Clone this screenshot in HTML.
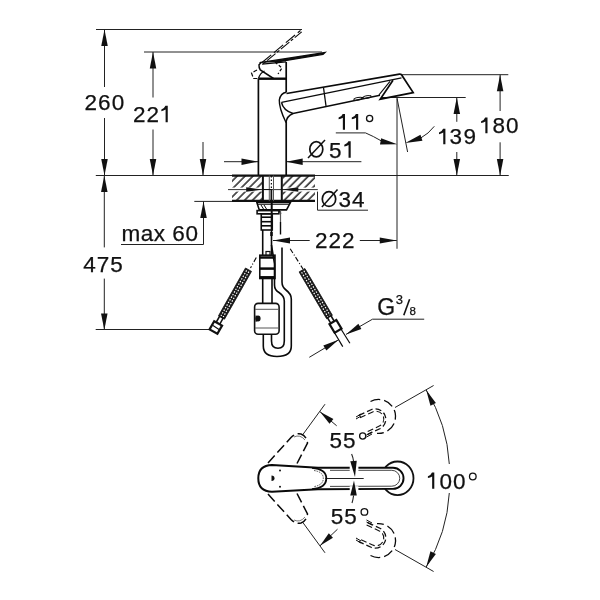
<!DOCTYPE html>
<html><head><meta charset="utf-8"><style>
html,body{margin:0;padding:0;background:#fff;}
svg{display:block;will-change:transform;}
text{font-family:"Liberation Sans",sans-serif;fill:#111;stroke:#111;stroke-width:0.25px;}
</style></head><body>
<svg width="600" height="600" viewBox="0 0 600 600">
<rect width="600" height="600" fill="#fff"/>
<line x1="96" y1="29.5" x2="302" y2="29.5" stroke="#222" stroke-width="1.0" />
<line x1="144" y1="52" x2="322" y2="52" stroke="#222" stroke-width="1.0" />
<line x1="104.5" y1="29.5" x2="104.5" y2="87" stroke="#222" stroke-width="1.0" />
<polygon points="104.50,29.50 107.75,46.00 101.25,46.00" fill="#111"/>
<line x1="104.5" y1="118" x2="104.5" y2="175.5" stroke="#222" stroke-width="1.0" />
<polygon points="104.50,175.50 101.25,159.00 107.75,159.00" fill="#111"/>
<line x1="153" y1="52" x2="153" y2="97.5" stroke="#222" stroke-width="1.0" />
<polygon points="153.00,52.00 156.25,68.50 149.75,68.50" fill="#111"/>
<line x1="153" y1="129.5" x2="153" y2="175.5" stroke="#222" stroke-width="1.0" />
<polygon points="153.00,175.50 149.75,159.00 156.25,159.00" fill="#111"/>
<line x1="203" y1="142" x2="203" y2="175.5" stroke="#222" stroke-width="1.0" />
<polygon points="203.00,175.50 199.75,159.00 206.25,159.00" fill="#111"/>
<line x1="95.8" y1="175.5" x2="508.75" y2="175.5" stroke="#222" stroke-width="1.0" />
<line x1="104.3" y1="175.5" x2="104.3" y2="247.4" stroke="#222" stroke-width="1.0" />
<polygon points="104.30,175.50 107.55,192.00 101.05,192.00" fill="#111"/>
<line x1="104.3" y1="278.6" x2="104.3" y2="330" stroke="#222" stroke-width="1.0" />
<polygon points="104.30,330.00 101.05,313.50 107.55,313.50" fill="#111"/>
<line x1="95.7" y1="329.5" x2="214" y2="329.5" stroke="#222" stroke-width="1.0" />
<line x1="194.3" y1="201.4" x2="232" y2="201.4" stroke="#222" stroke-width="1.0" />
<line x1="203.5" y1="201.4" x2="203.5" y2="244.5" stroke="#222" stroke-width="1.0" />
<polygon points="203.50,201.40 206.75,217.90 200.25,217.90" fill="#111"/>
<line x1="121" y1="244.5" x2="203.5" y2="244.5" stroke="#222" stroke-width="1.0" />
<line x1="224" y1="161.7" x2="258" y2="161.7" stroke="#222" stroke-width="1.0" />
<polygon points="258.00,161.70 241.50,164.95 241.50,158.45" fill="#111"/>
<line x1="286.2" y1="161.7" x2="361.4" y2="161.7" stroke="#222" stroke-width="1.0" />
<polygon points="286.20,161.70 302.70,158.45 302.70,164.95" fill="#111"/>
<path d="M335.8 132.9 L365.5 132.9 Q373 136 382 141.3" stroke="#222" stroke-width="1.0" fill="none" />
<polygon points="397.30,144.30 379.99,144.53 381.13,138.13" fill="#111"/>
<line x1="397" y1="98.5" x2="397" y2="248.75" stroke="#222" stroke-width="1.0" />
<line x1="397" y1="98" x2="407.6" y2="152" stroke="#222" stroke-width="1.0" />
<path d="M434.3 126.3 Q429 133.5 420 138.5" stroke="#222" stroke-width="1.0" fill="none" />
<polygon points="405.30,143.00 420.46,134.65 422.47,140.84" fill="#111"/>
<line x1="273" y1="240.5" x2="309.7" y2="240.5" stroke="#222" stroke-width="1.0" />
<polygon points="273.00,240.50 290.00,237.50 290.00,243.50" fill="#111"/>
<line x1="359.8" y1="240.5" x2="396.75" y2="240.5" stroke="#222" stroke-width="1.0" />
<polygon points="396.75,240.50 379.75,243.50 379.75,237.50" fill="#111"/>
<line x1="382" y1="97.5" x2="465.7" y2="97.5" stroke="#222" stroke-width="1.0" />
<line x1="456.8" y1="97.5" x2="456.8" y2="121.8" stroke="#222" stroke-width="1.0" />
<polygon points="456.80,97.50 460.05,114.00 453.55,114.00" fill="#111"/>
<line x1="456.8" y1="152" x2="456.8" y2="175.5" stroke="#222" stroke-width="1.0" />
<polygon points="456.80,175.50 453.55,159.00 460.05,159.00" fill="#111"/>
<line x1="401" y1="74.7" x2="508.3" y2="74.7" stroke="#222" stroke-width="1.0" />
<line x1="500.1" y1="74.7" x2="500.1" y2="111" stroke="#222" stroke-width="1.0" />
<polygon points="500.10,74.70 503.35,91.20 496.85,91.20" fill="#111"/>
<line x1="500.1" y1="142.3" x2="500.1" y2="175.5" stroke="#222" stroke-width="1.0" />
<polygon points="500.10,175.50 496.85,159.00 503.35,159.00" fill="#111"/>
<line x1="317.5" y1="189.6" x2="317.5" y2="210.2" stroke="#222" stroke-width="1.0" />
<line x1="317.5" y1="210.2" x2="368" y2="210.2" stroke="#222" stroke-width="1.0" />
<line x1="372.5" y1="319.2" x2="424.2" y2="319.2" stroke="#222" stroke-width="1.0" />
<line x1="372.5" y1="319.2" x2="346" y2="334.4" stroke="#222" stroke-width="1.0" />
<polygon points="346.00,334.40 358.39,323.84 361.37,329.05" fill="#111"/>
<line x1="309.3" y1="357.3" x2="338.6" y2="339.8" stroke="#222" stroke-width="1.0" />
<polygon points="338.60,339.80 326.38,350.55 323.31,345.39" fill="#111"/>
<defs><pattern id="hat" width="5.6" height="5.6" patternUnits="userSpaceOnUse" patternTransform="rotate(45)"><line x1="1" y1="-1" x2="1" y2="7" stroke="#1a1a1a" stroke-width="1.45"/></pattern></defs>
<rect x="232" y="175.5" width="31" height="25.9" fill="url(#hat)"/>
<rect x="282.5" y="175.5" width="32.5" height="25.9" fill="url(#hat)"/>
<rect x="228" y="187.6" width="90" height="4" fill="#fff"/>
<line x1="228" y1="189.6" x2="317.8" y2="189.6" stroke="#333" stroke-width="1.0" />
<polygon points="262.70,189.60 246.20,191.85 246.20,187.35" fill="#111"/>
<polygon points="281.80,189.60 298.30,187.35 298.30,191.85" fill="#111"/>
<line x1="232" y1="175.7" x2="315" y2="175.7" stroke="#111" stroke-width="2.2" />
<line x1="232" y1="200.9" x2="315" y2="200.9" stroke="#111" stroke-width="2.2" />
<line x1="262.9" y1="175.5" x2="262.9" y2="201.2" stroke="#111" stroke-width="2.0" />
<line x1="281.8" y1="175.5" x2="281.8" y2="201.2" stroke="#111" stroke-width="2.0" />
<line x1="269.3" y1="175.5" x2="269.3" y2="201.2" stroke="#555" stroke-width="1.0" />
<line x1="273.5" y1="175.5" x2="273.5" y2="201.2" stroke="#555" stroke-width="1.0" />
<line x1="271.4" y1="176" x2="271.4" y2="188.5" stroke="#111" stroke-width="1.2" stroke-dasharray="1.5 2"/>
<line x1="271.4" y1="189" x2="271.4" y2="201" stroke="#111" stroke-width="1.8" />
<line x1="262.9" y1="189.5" x2="271.4" y2="189.5" stroke="#111" stroke-width="1.0" />
<line x1="258.4" y1="78.7" x2="258.4" y2="175" stroke="#0a0a0a" stroke-width="1.7" />
<line x1="258.4" y1="78.7" x2="286.2" y2="78.7" stroke="#0a0a0a" stroke-width="2.4" />
<line x1="286.2" y1="62" x2="286.2" y2="92" stroke="#0a0a0a" stroke-width="1.7" />
<line x1="286.2" y1="122" x2="286.2" y2="175" stroke="#0a0a0a" stroke-width="1.7" />
<path d="M259.5 62.7 L325 52.5 L323 54.3 L276 62.2" stroke="#0a0a0a" stroke-width="1.3" fill="#111" />
<path d="M262 64.2 L286.2 61.8" stroke="#0a0a0a" stroke-width="1.2" fill="none" />
<path d="M261.5 62.3 L259 64.8 Q258.8 68 260.3 70 L273.5 78.5" stroke="#0a0a0a" stroke-width="1.5" fill="none" />
<path d="M258.5 78.5 Q260 73 264.5 71" stroke="#0a0a0a" stroke-width="1.2" fill="none" />
<path d="M275 62 L282 68 L278 74" stroke="#0a0a0a" stroke-width="1.2" fill="none" stroke-dasharray="3 2"/>
<path d="M257 70 L251.5 73 L253.5 78.5 L258 78.5" stroke="#0a0a0a" stroke-width="1.2" fill="none" stroke-dasharray="4 2"/>
<path d="M262 62.5 L300.5 30.5" stroke="#0a0a0a" stroke-width="1.1" fill="none" stroke-dasharray="12 3.5"/>
<path d="M263.2 63.8 L301.7 31.8" stroke="#0a0a0a" stroke-width="1.1" fill="none" stroke-dasharray="3 2 11 2"/>
<path d="M286.5 93.5 L399.5 74.2 Q401.5 74 402.2 75.8 L413.2 92.6 L380.2 99.2 L393 80.2" stroke="#0a0a0a" stroke-width="1.7" fill="none" />
<path d="M281.5 102.3 L401.5 77.8" stroke="#0a0a0a" stroke-width="1.3" fill="none" />
<path d="M379 94.8 L390 81.3" stroke="#0a0a0a" stroke-width="1.1" fill="none" />
<path d="M281.5 102.3 Q283 110 293 113.5 L380 95.3" stroke="#0a0a0a" stroke-width="1.5" fill="none" />
<path d="M286.5 92.2 Q280.5 93 279.3 100 Q279 108 285.8 122" stroke="#0a0a0a" stroke-width="1.4" fill="none" />
<path d="M293 113.5 Q286.5 116 286 123" stroke="#0a0a0a" stroke-width="1.4" fill="none" />
<line x1="323.5" y1="87.5" x2="326" y2="106" stroke="#0a0a0a" stroke-width="1.3" />
<ellipse cx="358" cy="98.8" rx="4.2" ry="1.3" transform="rotate(-11.5 358 98.8)" fill="none" stroke="#111" stroke-width="1"/>
<ellipse cx="367" cy="97" rx="4.2" ry="1.3" transform="rotate(-11.5 367 97)" fill="none" stroke="#111" stroke-width="1"/>
<line x1="362.5" y1="97" x2="362.5" y2="98.5" stroke="#0a0a0a" stroke-width="2" />
<path d="M256.8 202.4 L290.5 202.4 L286.5 209.9 L259.3 209.9 Z" stroke="#0a0a0a" stroke-width="1.6" fill="none" />
<line x1="257.5" y1="204.3" x2="289.5" y2="204.3" stroke="#111" stroke-width="1.0" />
<line x1="261" y1="205" x2="263.5" y2="209" stroke="#0a0a0a" stroke-width="1" />
<line x1="264" y1="205" x2="266.5" y2="209" stroke="#0a0a0a" stroke-width="1" />
<line x1="271.7" y1="201" x2="271.7" y2="230" stroke="#0a0a0a" stroke-width="2.0" />
<rect x="257.1" y="210.6" width="21.8" height="3.2" fill="none" stroke="#111" stroke-width="1.6"/>
<line x1="278.9" y1="210.6" x2="281" y2="213.6" stroke="#0a0a0a" stroke-width="1.2" />
<rect x="261.25" y="213.8" width="11" height="16.2" fill="none" stroke="#111" stroke-width="1.6"/>
<line x1="261.25" y1="217.2" x2="272.25" y2="217.2" stroke="#0a0a0a" stroke-width="1.6" />
<line x1="261.25" y1="221.7" x2="272.25" y2="221.7" stroke="#0a0a0a" stroke-width="1.6" />
<line x1="261.25" y1="225.8" x2="272.25" y2="225.8" stroke="#0a0a0a" stroke-width="1.6" />
<line x1="262.7" y1="230" x2="262.7" y2="255.2" stroke="#0a0a0a" stroke-width="1.6" />
<line x1="271.5" y1="230" x2="271.5" y2="255.2" stroke="#0a0a0a" stroke-width="1.6" />
<line x1="271.5" y1="232" x2="271.5" y2="236" stroke="#0a0a0a" stroke-width="2.5" />
<line x1="280.5" y1="211" x2="280.5" y2="222" stroke="#555" stroke-width="1.2" />
<line x1="280.5" y1="222" x2="280.5" y2="234.5" stroke="#0a0a0a" stroke-width="1.4" />
<rect x="259.8" y="255.2" width="15.2" height="23.3" fill="none" stroke="#111" stroke-width="1.6"/>
<line x1="259.8" y1="257.5" x2="275" y2="257.5" stroke="#0a0a0a" stroke-width="2.5" />
<line x1="259.8" y1="268.6" x2="275" y2="268.6" stroke="#0a0a0a" stroke-width="2.5" />
<line x1="259.8" y1="277.3" x2="275" y2="277.3" stroke="#0a0a0a" stroke-width="2.5" />
<rect x="266" y="251.5" width="4" height="4" fill="none" stroke="#111" stroke-width="1.2"/>
<line x1="262.7" y1="278.5" x2="262.7" y2="303.4" stroke="#0a0a0a" stroke-width="1.6" />
<line x1="272" y1="278.5" x2="272" y2="303.4" stroke="#0a0a0a" stroke-width="1.6" />
<rect x="254.6" y="303.4" width="24.5" height="30.9" rx="3.5" fill="none" stroke="#111" stroke-width="1.6"/>
<line x1="255" y1="309.3" x2="279" y2="309.3" stroke="#555" stroke-width="1" />
<line x1="255" y1="328" x2="279" y2="328" stroke="#555" stroke-width="1" />
<path d="M255.5 315.5 A3 3 0 0 1 255.5 321.7 Z" fill="#111"/>
<ellipse cx="258" cy="318.6" rx="2.6" ry="3" fill="#111"/>
<path d="M263.3 334.3 L263.3 346 Q263.3 356.5 277 356.5 Q291.3 356.5 291.3 346 L291.3 299 Q291.3 294 286 290 Q282 287 282 282 L282 247.5" stroke="#0a0a0a" stroke-width="1.6" fill="none" />
<path d="M271.5 334.3 L271.5 341 Q271.5 348.3 278 348.3 Q284.3 348.3 284.3 341 L284.3 301 Q284.3 296 279 292.5 Q274.5 290 274.5 285 L274.5 264 L271.5 245" stroke="#0a0a0a" stroke-width="1.6" fill="none" />
<line x1="256.3" y1="257.5" x2="250.5" y2="268" stroke="#0a0a0a" stroke-width="1.1" stroke-dasharray="5 2 1 2"/>
<line x1="290.2" y1="248.7" x2="303" y2="269" stroke="#0a0a0a" stroke-width="1.1" stroke-dasharray="5 2 1 2"/>
<polygon points="245.5,268.0 218.5,315.8 224.5,319.2 251.5,271.4" fill="#1a1a1a" stroke="#111" stroke-width="0.8"/>
<line x1="248.9" y1="271.6" x2="222.6" y2="318.1" stroke="#fff" stroke-width="1.2" stroke-dasharray="1.5 1.5"/>
<line x1="246.6" y1="270.4" x2="220.4" y2="316.9" stroke="#fff" stroke-width="1.2" stroke-dasharray="1.5 1.5"/>
<polygon points="299.1,271.9 326.6,318.7 332.4,315.3 304.9,268.5" fill="#1a1a1a" stroke="#111" stroke-width="0.8"/>
<line x1="303.9" y1="270.8" x2="330.6" y2="316.3" stroke="#fff" stroke-width="1.2" stroke-dasharray="1.5 1.5"/>
<line x1="301.6" y1="272.2" x2="328.4" y2="317.7" stroke="#fff" stroke-width="1.2" stroke-dasharray="1.5 1.5"/>
<rect x="-3.5" y="-2.0" width="7" height="4" fill="#fff" stroke="#111" stroke-width="1.6" transform="translate(219.7 320.2) rotate(-60.5)"/>
<rect x="-4.75" y="-4.5" width="9.5" height="9" fill="#fff" stroke="#111" stroke-width="2.2" transform="translate(215.8 327.5) rotate(-60.5)"/>
<line x1="213" y1="325.5" x2="219" y2="329.5" stroke="#0a0a0a" stroke-width="1.2" />
<rect x="-3.5" y="-2.0" width="7" height="4" fill="#fff" stroke="#111" stroke-width="1.6" transform="translate(331 319.7) rotate(58.8)"/>
<rect x="-5.0" y="-4.0" width="10" height="8" fill="#fff" stroke="#111" stroke-width="2.2" transform="translate(335.5 326.3) rotate(58.8)"/>
<line x1="334.1" y1="332" x2="342.75" y2="346.6" stroke="#0a0a0a" stroke-width="1.2" />
<line x1="340.5" y1="328.25" x2="349.9" y2="343.25" stroke="#0a0a0a" stroke-width="1.2" />
<line x1="302.5" y1="435" x2="325" y2="404.2" stroke="#222" stroke-width="1.0" />
<line x1="320" y1="411.7" x2="336.7" y2="425.8" stroke="#222" stroke-width="1.0" />
<polygon points="320.00,411.70 333.40,419.08 329.53,423.67" fill="#111"/>
<line x1="302.5" y1="522" x2="325" y2="552.8" stroke="#222" stroke-width="1.0" />
<line x1="320" y1="545.8" x2="337.5" y2="529.2" stroke="#222" stroke-width="1.0" />
<polygon points="320.00,545.80 328.82,533.30 332.95,537.65" fill="#111"/>
<line x1="395" y1="407.5" x2="433.6" y2="385.5" stroke="#222" stroke-width="1.0" />
<line x1="395" y1="549.5" x2="433.6" y2="571.5" stroke="#222" stroke-width="1.0" />
<path d="M426.2 390 A159 159 0 0 1 449.3 464" stroke="#222" stroke-width="1.0" fill="none" />
<path d="M449.3 493 A159 159 0 0 1 426.2 567" stroke="#222" stroke-width="1.0" fill="none" />
<polygon points="426.20,390.00 435.86,403.10 430.46,405.71" fill="#111"/>
<polygon points="426.20,567.00 430.46,551.29 435.86,553.90" fill="#111"/>
<ellipse cx="397.5" cy="478.3" rx="16" ry="16.8" fill="#fff" stroke="#111" stroke-width="1.8"/>
<rect x="318" y="467.8" width="76" height="21.2" fill="#fff"/>
<path d="M318 467.8 L393 467.8 A10.5 10.5 0 0 1 393 488.9 L318 489.2" stroke="#0a0a0a" stroke-width="1.9" fill="#fff" />
<path d="M330 470.3 L391.8 470.3 A7.9 7.9 0 0 1 391.8 486.2 L330 486.4" stroke="#444" stroke-width="1.0" fill="none" />
<line x1="325.3" y1="478.5" x2="363.7" y2="478.5" stroke="#222" stroke-width="1" />
<rect x="349.7" y="465.5" width="8.7" height="6" fill="#fff"/>
<rect x="349.7" y="486.2" width="8.7" height="6" fill="#fff"/>
<path d="M318 467.8 L272 465 Q258.3 465.5 258.3 478.3 Q258.3 491.5 272 491.7 L318 489.2" stroke="#0a0a0a" stroke-width="2.0" fill="#fff" />
<path d="M312 467.8 Q326.3 469 326.3 478.3 Q326.3 488 312 489.2" stroke="#0a0a0a" stroke-width="1.8" fill="none" />
<path d="M314 470.5 Q323.3 472 323.3 478.3 Q323.3 485 314 486.6" stroke="#444" stroke-width="1" fill="none" stroke-dasharray="1.5 1"/>
<circle cx="280" cy="470.4" r="1" fill="#111"/><circle cx="280" cy="486.7" r="1" fill="#111"/>
<path d="M271.5 475.5 Q274.5 475.5 274.5 478.3 Q274.5 481 271.5 481 Z" fill="#111"/>
<path d="M351.6 454 Q353 457 353.6 461.5" stroke="#222" stroke-width="1.1" fill="none" />
<polygon points="355.00,477.00 350.27,461.37 356.74,460.77" fill="#111"/>
<path d="M352 503 Q353 500 353.6 495.5" stroke="#222" stroke-width="1.1" fill="none" />
<polygon points="354.00,480.50 356.76,495.60 350.27,495.39" fill="#111"/>
<path d="M268 463 L291 437.5 Q296 432.5 301 434 Q306.5 436 307.5 443 L295.5 466.5" stroke="#0a0a0a" stroke-width="1.5" fill="none" stroke-dasharray="10 4"/>
<path d="M294 437 Q300 434 305 440" stroke="#666" stroke-width="0.9" fill="none" />
<path d="M268 494 L291 519.5 Q296 524.5 301 523 Q306.5 521 307.5 514 L295.5 490.5" stroke="#0a0a0a" stroke-width="1.5" fill="none" stroke-dasharray="10 4"/>
<path d="M294 520 Q300 523 305 517" stroke="#666" stroke-width="0.9" fill="none" />
<path d="M358.9 415.4 L371.6 409.5 A10.5 10.5 0 0 1 380.4 428.5 L367.7 434.4" stroke="#111" stroke-width="1.3" fill="none" stroke-dasharray="6 3"/>
<path d="M360.0 417.8 L372.7 411.9 A7.8 7.8 0 0 1 379.3 426.1 L366.6 432.0" stroke="#111" stroke-width="1.1" fill="none" stroke-dasharray="6 3"/>
<path d="M367.7 522.6 L380.4 528.5 A10.5 10.5 0 0 1 371.6 547.5 L358.9 541.6" stroke="#111" stroke-width="1.3" fill="none" stroke-dasharray="6 3"/>
<path d="M366.6 525.0 L379.3 530.9 A7.8 7.8 0 0 1 372.7 545.1 L360.0 539.2" stroke="#111" stroke-width="1.1" fill="none" stroke-dasharray="6 3"/>
<path d="M370.5 401.5 A17 17 0 1 1 377.0 433.4" stroke="#0a0a0a" stroke-width="1.3" fill="none" stroke-dasharray="10 4"/>
<path d="M370.5 555.5 A17 17 0 1 0 377.0 523.6" stroke="#0a0a0a" stroke-width="1.3" fill="none" stroke-dasharray="10 4"/>
<line x1="356" y1="417" x2="361" y2="414" stroke="#0a0a0a" stroke-width="1" />
<line x1="356" y1="419" x2="361" y2="416" stroke="#0a0a0a" stroke-width="1" />
<line x1="366.5" y1="435" x2="372" y2="432" stroke="#0a0a0a" stroke-width="1" />
<line x1="366.5" y1="437" x2="372" y2="434" stroke="#0a0a0a" stroke-width="1" />
<line x1="356" y1="538" x2="361" y2="541" stroke="#0a0a0a" stroke-width="1" />
<line x1="356" y1="540" x2="361" y2="543" stroke="#0a0a0a" stroke-width="1" />
<line x1="366.5" y1="520" x2="372" y2="523" stroke="#0a0a0a" stroke-width="1" />
<line x1="366.5" y1="522" x2="372" y2="525" stroke="#0a0a0a" stroke-width="1" />
<text x="84.62" y="110.40" font-size="22.5" letter-spacing="1.0">260</text>
<text x="132.88" y="122.30" font-size="22.5" letter-spacing="1.0">22</text>
<path d="M167.75 122.30 L167.75 105.80 L165.45 105.80 Q164.55 108.40 161.35 109.40 L161.35 111.20 Q163.55 111.00 165.60 109.60 L165.60 122.30 Z" fill="#111"/>
<text x="83.30" y="272.30" font-size="22.5" letter-spacing="1.0">475</text>
<text x="121.42" y="240.60" font-size="22.5" letter-spacing="0.55">max 60</text>
<ellipse cx="316.3" cy="149.3" rx="6.5" ry="7.6" fill="none" stroke="#111" stroke-width="1.7"/>
<line x1="308" y1="158" x2="325" y2="140.1" stroke="#111" stroke-width="1.5"/>
<text x="329.10" y="157.80" font-size="22.5" letter-spacing="1.0">5</text>
<path d="M350.70 157.80 L350.70 141.20 L348.40 141.20 Q347.50 143.80 344.30 144.80 L344.30 146.60 Q346.50 146.40 348.55 145.00 L348.55 157.80 Z" fill="#111"/>
<path d="M345.00 129.80 L345.00 113.90 L342.70 113.90 Q341.80 116.50 338.60 117.50 L338.60 119.30 Q340.80 119.10 342.85 117.70 L342.85 129.80 Z" fill="#111"/>
<path d="M358.20 129.80 L358.20 113.90 L355.90 113.90 Q355.00 116.50 351.80 117.50 L351.80 119.30 Q354.00 119.10 356.05 117.70 L356.05 129.80 Z" fill="#111"/>
<circle cx="369.6" cy="118.5" r="3.1" fill="none" stroke="#111" stroke-width="1.3"/>
<path d="M445.40 144.30 L445.40 128.80 L443.10 128.80 Q442.20 131.40 439.00 132.40 L439.00 134.20 Q441.20 134.00 443.25 132.60 L443.25 144.30 Z" fill="#111"/>
<text x="449.40" y="144.30" font-size="22.5" letter-spacing="1.6">39</text>
<path d="M487.50 133.30 L487.50 117.60 L485.20 117.60 Q484.30 120.20 481.10 121.20 L481.10 123.00 Q483.30 122.80 485.35 121.40 L485.35 133.30 Z" fill="#111"/>
<text x="492.40" y="133.30" font-size="22.5" letter-spacing="1.0">80</text>
<ellipse cx="329" cy="199" rx="6.7" ry="7.4" fill="none" stroke="#111" stroke-width="1.7"/>
<line x1="321.9" y1="207" x2="337.5" y2="189.6" stroke="#111" stroke-width="1.5"/>
<text x="338.40" y="206.80" font-size="22.5" letter-spacing="1.0">34</text>
<text x="314.88" y="248.00" font-size="22.5" letter-spacing="1.0">222</text>
<text x="329.50" y="447.70" font-size="22.5" letter-spacing="1.0">55</text>
<circle cx="362.7" cy="436" r="3.1" fill="none" stroke="#111" stroke-width="1.3"/>
<text x="330.80" y="523.60" font-size="22.5" letter-spacing="1.0">55</text>
<circle cx="364.4" cy="511.9" r="3.3" fill="none" stroke="#111" stroke-width="1.3"/>
<path d="M434.30 488.70 L434.30 472.60 L432.00 472.60 Q431.10 475.20 427.90 476.20 L427.90 478.00 Q430.10 477.80 432.15 476.40 L432.15 488.70 Z" fill="#111"/>
<text x="439.60" y="488.70" font-size="22.5" letter-spacing="1.0">00</text>
<circle cx="472.8" cy="476.5" r="3.3" fill="none" stroke="#111" stroke-width="1.3"/>
<text x="377.15" y="314.60" font-size="23" letter-spacing="0">G</text>
<text x="395.68" y="303.60" font-size="13" letter-spacing="0">3</text>
<line x1="403.8" y1="315.2" x2="409.6" y2="299.2" stroke="#111" stroke-width="1.6" />
<text x="409.44" y="315.20" font-size="11.5" letter-spacing="0">8</text>
</svg></body></html>
